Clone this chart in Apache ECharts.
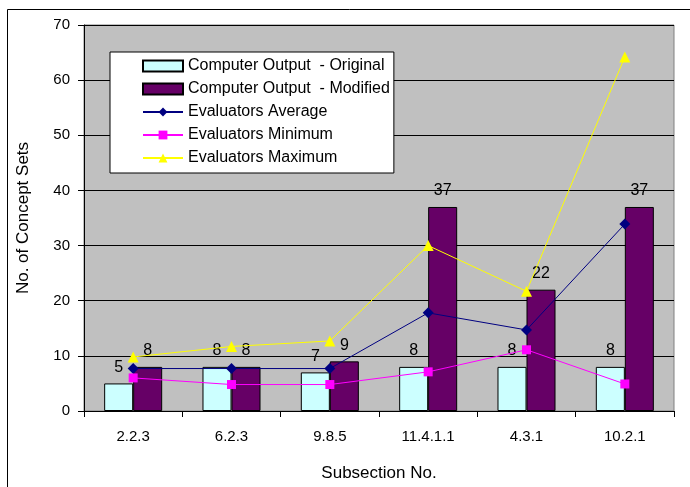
<!DOCTYPE html>
<html>
<head>
<meta charset="utf-8">
<script src="https://cdn.jsdelivr.net/npm/echarts@6/dist/echarts.min.js"></script>
<style>
  html, body { margin: 0; padding: 0; background: #fff; }
  #chart { width: 690px; height: 487px; }
</style>
</head>
<body>
<div id="chart"></div>
<script>
const categories = ['2.2.3', '6.2.3', '9.8.5', '11.4.1.1', '4.3.1', '10.2.1'];
const outputOriginal = [5, 8, 7, 8, 8, 8];
const outputModified = [8, 8, 9, 37, 22, 37];
const evalAverage = [7.7, 7.7, 7.7, 17.8, 14.7, 33.9];
const evalMinimum = [6, 4.8, 4.8, 7.1, 11.1, 4.9];
const evalMaximum = [9.8, 11.7, 12.7, 30, 21.7, 64.2];
const yTicks = [0, 10, 20, 30, 40, 50, 60, 70];

const font = 'Liberation Sans, Arial, sans-serif';
const chart = echarts.init(document.getElementById('chart'));

const labelStyle = {
  show: true,
  position: 'top',
  distance: 8,
  color: '#000',
  fontFamily: font,
  fontSize: 16
};

const options = {
  animation: false,
  backgroundColor: '#fff',
  textStyle: { fontFamily: font },
  graphic: [{
    type: 'rect',
    shape: { x: 7.5, y: 9.5, width: 700, height: 500 },
    style: { fill: 'none', stroke: '#000', lineWidth: 1 },
    z: -1
  }],
  grid: {
    left: 84, right: 16, top: 25, bottom: 76,
    outerBoundsMode: 'none',
    containLabel: false,
    show: true,
    backgroundColor: '#c0c0c0',
    borderColor: '#808080',
    borderWidth: 1
  },
  legend: {
    orient: 'vertical',
    left: 110,
    top: 52,
    backgroundColor: '#fff',
    borderColor: '#000',
    borderWidth: 1,
    padding: [5, 4, 6, 32],
    itemGap: 5,
    itemWidth: 40,
    itemHeight: 11,
    textStyle: { fontFamily: font, fontSize: 16, color: '#000', lineHeight: 18 },
    data: [
      { name: 'Computer Output  - Original', icon: 'rect' },
      { name: 'Computer Output  - Modified', icon: 'rect' },
      'Evaluators Average',
      'Evaluators Minimum',
      'Evaluators Maximum'
    ]
  },
  xAxis: {
    type: 'category',
    data: categories,
    name: 'Subsection No.',
    nameLocation: 'middle',
    nameGap: 54,
    nameTextStyle: { fontFamily: font, fontSize: 17, color: '#000' },
    axisLine: { lineStyle: { color: '#000' } },
    axisTick: { show: true, length: 6, lineStyle: { color: '#000' } },
    axisLabel: { color: '#000', fontFamily: font, fontSize: 15, margin: 18 }
  },
  yAxis: {
    type: 'value',
    min: 0,
    max: 70,
    interval: 10,
    name: 'No. of Concept Sets',
    nameLocation: 'middle',
    nameGap: 52,
    nameTextStyle: { fontFamily: font, fontSize: 17, color: '#000' },
    axisLine: { show: true, lineStyle: { color: '#000' } },
    axisTick: { show: true, inside: false, length: 6, lineStyle: { color: '#000' } },
    axisLabel: {
      color: '#000', fontFamily: font, fontSize: 15, margin: 14,
      formatter: v => yTicks.includes(v) ? String(v) : ''
    },
    splitLine: { show: true, lineStyle: { color: '#000', width: 1 } }
  },
  series: [
    {
      name: 'Computer Output  - Original',
      type: 'bar',
      data: outputOriginal,
      barWidth: '29.5%',
      barGap: '0%',
      itemStyle: { color: '#ccffff', borderColor: '#000', borderWidth: 1 },
      label: labelStyle
    },
    {
      name: 'Computer Output  - Modified',
      type: 'bar',
      data: outputModified,
      barWidth: '29.5%',
      barGap: '0%',
      itemStyle: { color: '#660066', borderColor: '#000', borderWidth: 1 },
      label: labelStyle
    },
    {
      name: 'Evaluators Average',
      type: 'line',
      data: evalAverage,
      symbol: 'diamond',
      symbolSize: 11,
      lineStyle: { color: '#000080', width: 1 },
      itemStyle: { color: '#000080' }
    },
    {
      name: 'Evaluators Minimum',
      type: 'line',
      data: evalMinimum,
      symbol: 'rect',
      symbolSize: 9,
      lineStyle: { color: '#ff00ff', width: 1 },
      itemStyle: { color: '#ff00ff' }
    },
    {
      name: 'Evaluators Maximum',
      type: 'line',
      data: evalMaximum,
      symbol: 'triangle',
      symbolSize: 11,
      lineStyle: { color: '#ffff00', width: 1 },
      itemStyle: { color: '#ffff00' }
    }
  ]
};

chart.setOption(options);
</script>
</body>
</html>
